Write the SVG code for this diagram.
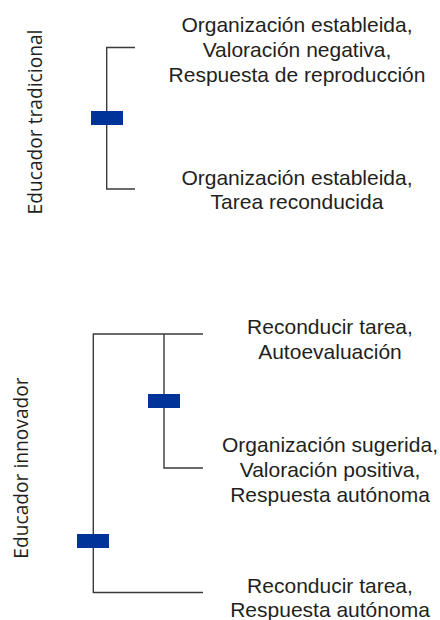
<svg xmlns="http://www.w3.org/2000/svg" width="440" height="620" viewBox="0 0 440 620">
<style>
.lbl{font-family:"Liberation Sans",Arial,sans-serif;font-size:21px;fill:#231f20;text-anchor:middle}
.side{font-family:"Open Sans","Noto Sans",sans-serif;font-size:19.2px;fill:#231f20;text-anchor:middle}
.ln{fill:none;stroke:#3a3a3a;stroke-width:1.4}
.bar{fill:#003399}
</style>
<rect width="440" height="620" fill="#ffffff"/>
<g id="connectors">
<path class="ln" d="M135,47.5 H106.7 V189 H135"/>
<path class="ln" d="M203,334 H93.3 V592.5 H203"/>
<path class="ln" d="M164,334 V468 H203"/>
</g>
<g id="educador-tradicional">
<text class="side" transform="translate(41.5,122) rotate(-90)">Educador tradicional</text>
<rect class="bar" x="91" y="111" width="32" height="14"/>
</g>
<g id="educador-innovador">
<text class="side" transform="translate(27.5,468) rotate(-90)">Educador innovador</text>
<rect class="bar" x="77" y="534" width="32" height="14"/>
</g>
<g id="split-innovador">
<rect class="bar" x="148" y="394" width="32" height="14"/>
</g>
<g id="t1">
<text class="lbl" x="297" y="32">Organización estableida,</text>
<text class="lbl" x="297" y="57">Valoración negativa,</text>
<text class="lbl" x="297" y="82">Respuesta de reproducción</text>
</g>
<g id="t2">
<text class="lbl" x="297" y="185">Organización estableida,</text>
<text class="lbl" x="297" y="209">Tarea reconducida</text>
</g>
<g id="i1">
<text class="lbl" x="330" y="334">Reconducir tarea,</text>
<text class="lbl" x="330" y="359">Autoevaluación</text>
</g>
<g id="i2">
<text class="lbl" x="330" y="452">Organización sugerida,</text>
<text class="lbl" x="330" y="477">Valoración positiva,</text>
<text class="lbl" x="330" y="502">Respuesta autónoma</text>
</g>
<g id="i3">
<text class="lbl" x="330" y="593">Reconducir tarea,</text>
<text class="lbl" x="330" y="617">Respuesta autónoma</text>
</g>
</svg>
